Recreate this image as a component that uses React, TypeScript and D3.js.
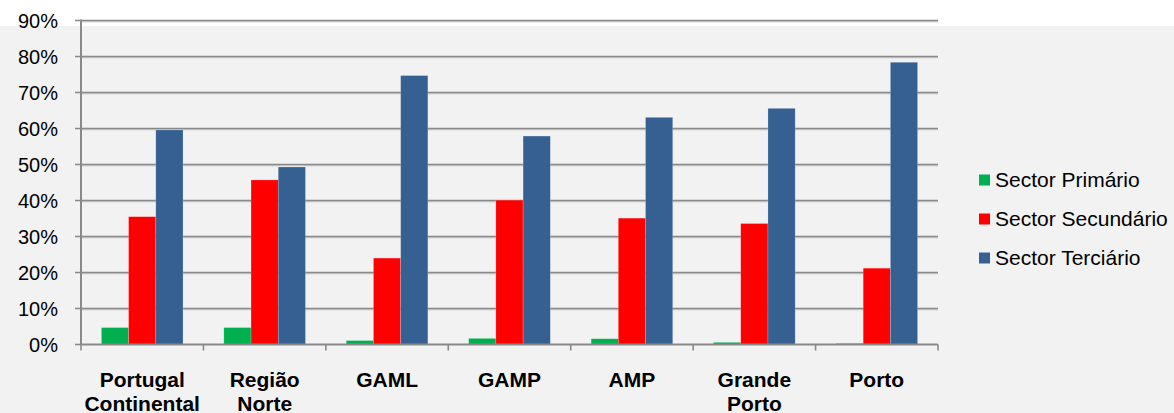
import React from "react";
import * as d3 from "d3";

const categories: string[][] = [
  ["Portugal", "Continental"],
  ["Região", "Norte"],
  ["GAML"],
  ["GAMP"],
  ["AMP"],
  ["Grande", "Porto"],
  ["Porto"],
];
const seriesNames = ["Sector Primário", "Sector Secundário", "Sector Terciário"];
const seriesColors = ["#00b050", "#ff0000", "#376092"];
const primario = [4.7, 4.7, 1.1, 1.7, 1.6, 0.6, 0.3];
const secundario = [35.5, 45.7, 24.0, 40.1, 35.1, 33.6, 21.2];
const terciario = [59.6, 49.3, 74.7, 57.9, 63.1, 65.6, 78.4];
const yTicks = [0, 10, 20, 30, 40, 50, 60, 70, 80, 90];

const W = 1174;
const H = 413;
const left = 81;
const right = 938;
const top = 20.5;
const bottom = 344.5;

export default function App() {
  const series = [primario, secundario, terciario];
  const keys = categories.map((c) => c.join(" "));
  const x = d3.scaleBand<string>().domain(keys).range([left, right]).paddingInner(0).paddingOuter(0);
  const bw = x.bandwidth();
  const barW = bw / 4.5;
  const gap = (bw - 3 * barW) / 2;
  const y = d3.scaleLinear().domain([0, 90]).range([bottom, top]);
  const font = "'Liberation Sans', Arial, sans-serif";
  const tickXs = keys.map((k) => x(k) as number).concat([right]);

  return (
    <svg width={W} height={H} style={{ position: "absolute", left: 0, top: 0 }} fontFamily={font}>
      <rect x={0} y={0} width={W} height={H} fill="#ffffff" />
      <rect x={0} y={26} width={W} height={H - 26} fill="#f2f2f2" />
      {yTicks.map((t) => (
        <g key={t}>
          {t > 0 && (
            <>
              <line x1={left} x2={right} y1={y(t) + 1.3} y2={y(t) + 1.3} stroke="#c4c4c4" strokeWidth={1} />
              <line x1={left - 6} x2={right} y1={y(t)} y2={y(t)} stroke="#898989" strokeWidth={1.6} />
            </>
          )}
          {t === 0 && <line x1={left - 6} x2={left} y1={y(t)} y2={y(t)} stroke="#898989" strokeWidth={1.6} />}
          <text x={58} y={y(t)} dy="0.35em" textAnchor="end" fontSize={20} fill="#000">
            {t + "%"}
          </text>
        </g>
      ))}
      {series.map((vals, si) =>
        vals.map((v, ci) => {
          const bx = (x(keys[ci]) as number) + gap + si * barW;
          return (
            <rect
              key={si + "-" + ci}
              x={bx}
              y={y(v)}
              width={barW}
              height={bottom - y(v)}
              fill={seriesColors[si]}
              stroke="rgba(255,255,255,0.3)"
              strokeWidth={0.6}
            />
          );
        })
      )}
      <line x1={left} x2={left} y1={top - 1} y2={bottom} stroke="#898989" strokeWidth={2} />
      <line x1={left} x2={right} y1={bottom} y2={bottom} stroke="#898989" strokeWidth={2} />
      {tickXs.map((tx, i) => (
        <line key={i} x1={tx} x2={tx} y1={bottom} y2={bottom + 6} stroke="#898989" strokeWidth={1.6} />
      ))}
      {categories.map((lines, ci) => {
        const cx = (x(keys[ci]) as number) + bw / 2;
        return (
          <text key={ci} x={cx} textAnchor="middle" fontSize={21} fontWeight="bold" fill="#000">
            {lines.map((l, li) => (
              <tspan key={li} x={cx} y={387 + li * 23.5}>
                {l}
              </tspan>
            ))}
          </text>
        );
      })}
      {seriesNames.map((name, si) => {
        const cy = 180 + si * 39;
        return (
          <g key={name}>
            <rect x={979} y={cy - 5.5} width={11} height={11} fill={seriesColors[si]} />
            <text x={995} y={cy} dy="0.35em" fontSize={21} fill="#000">
              {name}
            </text>
          </g>
        );
      })}
    </svg>
  );
}
